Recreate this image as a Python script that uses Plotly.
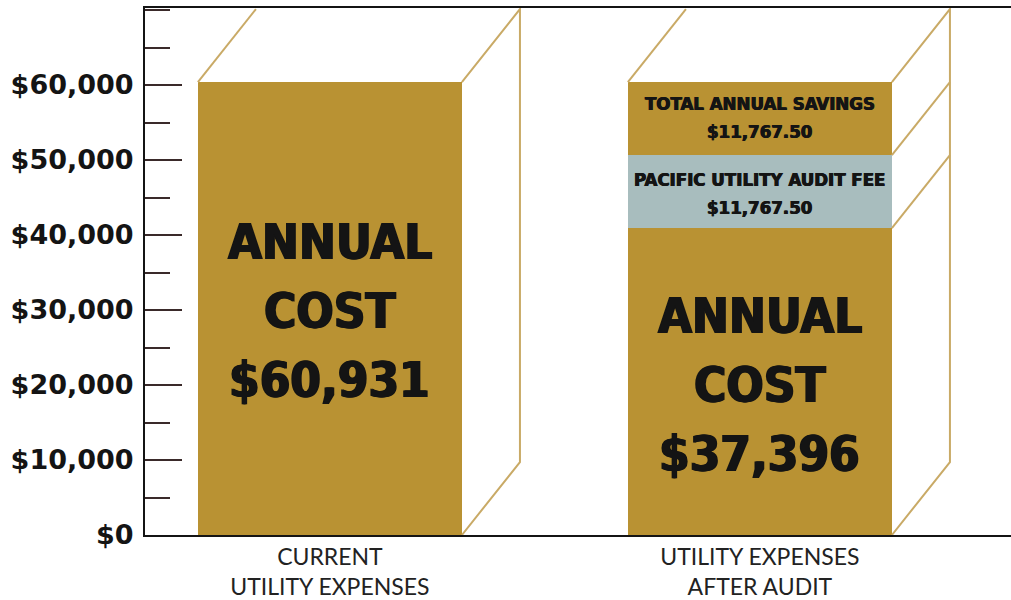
import plotly.graph_objects as go

# ---- data ----
categories = ["CURRENT<br>UTILITY EXPENSES", "UTILITY EXPENSES<br>AFTER AUDIT"]
annual_cost = [60400, 40930]          # drawn height of the main (gold) block
audit_fee = [None, 9735]              # blue segment
annual_savings = [None, 9735]         # top gold segment
big_labels = [["ANNUAL", "COST", "$60,931"], ["ANNUAL", "COST", "$37,396"]]
fee_label = ["PACIFIC UTILITY AUDIT FEE", "$11,767.50"]
savings_label = ["TOTAL ANNUAL SAVINGS", "$11,767.50"]
y_tickvals = [0, 10000, 20000, 30000, 40000, 50000, 60000]
y_ticktext = ["$0", "$10,000", "$20,000", "$30,000", "$40,000", "$50,000", "$60,000"]

# ---- styles ----
GOLD = "#B99233"
BLUE = "#A8BDBE"
EDGE = "#C9AA66"
INK = "#141414"
BAR_W = 0.614
DEPTH_X = 0.135
DEPTH_Y = 9730
BIG_LINE_PX = 69
SMALL_LINE_PX = 28
BIG_SHIFT_PX = [-3, -4]
COND = "DejaVu Sans Condensed, sans-serif"
HEAVY = "1px 0 0 #141414, -1px 0 0 #141414"
HEAVY_SMALL = "0.5px 0 0 #141414, -0.5px 0 0 #141414"

xs = list(range(len(categories)))

fig = go.Figure()
fig.add_trace(go.Bar(x=xs, y=annual_cost, width=BAR_W, marker=dict(color=GOLD, line=dict(width=0)),
                     hoverinfo="skip"))
fig.add_trace(go.Bar(x=xs, y=audit_fee, width=BAR_W, marker=dict(color=BLUE, line=dict(width=0)),
                     hoverinfo="skip"))
fig.add_trace(go.Bar(x=xs, y=annual_savings, width=BAR_W, marker=dict(color=GOLD, line=dict(width=0)),
                     hoverinfo="skip"))

# ---- 3D box outlines derived from the data ----
shapes = []
for i, x in enumerate(xs):
    segs = [v for v in (annual_cost[i], audit_fee[i], annual_savings[i]) if v]
    total = sum(segs)
    left, right = x - BAR_W / 2, x + BAR_W / 2
    line = dict(color=EDGE, width=2)
    shapes.append(dict(type="line", xref="x", yref="y", x0=left, y0=total,
                       x1=left + DEPTH_X, y1=total + DEPTH_Y, line=line, layer="above"))
    path = (f"M {right},{total} L {right + DEPTH_X},{total + DEPTH_Y} "
            f"L {right + DEPTH_X},{DEPTH_Y} L {right},0")
    shapes.append(dict(type="path", xref="x", yref="y", path=path, line=line, layer="above"))
    b = 0
    for v in segs[:-1]:
        b += v
        shapes.append(dict(type="line", xref="x", yref="y", x0=right, y0=b,
                           x1=right + DEPTH_X, y1=b + DEPTH_Y, line=line, layer="above"))

# ---- annotations ----
ann = []


def add_lines(x, y, lines, spacing, size, shadow, extra=0):
    mid = (len(lines) - 1) / 2
    for j, t in enumerate(lines):
        ann.append(dict(x=x, y=y, xref="x", yref="y", text=t,
                        yshift=(mid - j) * spacing + extra, showarrow=False,
                        font=dict(family=COND, size=size, color=INK, weight=900, shadow=shadow),
                        align="center"))


for i, x in enumerate(xs):
    add_lines(x, annual_cost[i] / 2, big_labels[i], BIG_LINE_PX, 49, HEAVY, BIG_SHIFT_PX[i])

fee_mid = annual_cost[1] + audit_fee[1] / 2
sav_mid = annual_cost[1] + audit_fee[1] + annual_savings[1] / 2
add_lines(1, fee_mid, fee_label, SMALL_LINE_PX, 18.5, HEAVY_SMALL, -2)
add_lines(1, sav_mid, savings_label, SMALL_LINE_PX, 18.5, HEAVY_SMALL, 1)

fig.update_layout(
    width=1011, height=600,
    margin=dict(l=145, r=0, t=8, b=65, autoexpand=False),
    paper_bgcolor="white", plot_bgcolor="white",
    barmode="stack", showlegend=False, bargap=0,
    shapes=shapes, annotations=ann,
)
fig.update_xaxes(
    range=[-0.430, 1.584], tickvals=xs, ticktext=categories,
    showgrid=False, zeroline=False, ticks="", automargin=False,
    showline=True, linecolor=INK, linewidth=2, mirror=True,
    tickfont=dict(family="Lato, sans-serif", size=23, color="#222"),
    ticklabelstandoff=0,
)
fig.update_yaxes(
    range=[0, 70270], tickvals=y_tickvals, ticktext=y_ticktext,
    showgrid=False, zeroline=False, automargin=False,
    showline=True, linecolor=INK, linewidth=2, mirror=False,
    ticks="inside", ticklen=37, tickwidth=1.5, tickcolor="#3a2a2a",
    minor=dict(ticks="inside", ticklen=25, dtick=5000, tick0=0, tickwidth=1.5, tickcolor="#3a2a2a"),
    tickfont=dict(family="DejaVu Sans, sans-serif", size=27, color=INK, weight="bold"),
    ticklabelstandoff=4,
)

fig.write_html("out.html", config={"displayModeBar": False},
               post_script="document.body.style.margin='0px';")
